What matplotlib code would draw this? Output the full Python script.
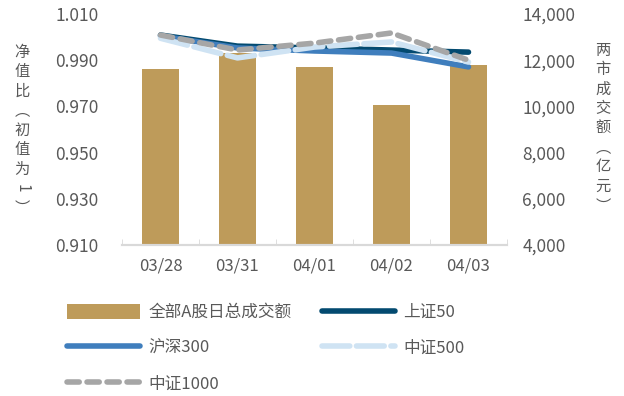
import matplotlib
matplotlib.use("Agg")
import matplotlib.pyplot as plt
from matplotlib.patches import Patch
from matplotlib.lines import Line2D

plt.rcParams['font.family'] = ['Noto Sans CJK SC', 'DejaVu Sans']

dates = ["03/28", "03/31", "04/01", "04/02", "04/03"]
turnover = [11620, 12310, 11700, 10060, 11790]      # 全部A股日总成交额（亿元）
sz50 = [1.0009, 0.9961, 0.9953, 0.9944, 0.9935]      # 上证50
hs300 = [1.0005, 0.9953, 0.9940, 0.9931, 0.9871]     # 沪深300
zz500 = [0.9995, 0.9910, 0.9957, 0.9979, 0.9892]     # 中证500
zz1000 = [1.0009, 0.9944, 0.9974, 1.0018, 0.9900]    # 中证1000

left_ticks = [0.910, 0.930, 0.950, 0.970, 0.990, 1.010]
right_ticks = [4000, 6000, 8000, 10000, 12000, 14000]

c_bar = "#BE9B5A"
c_sz50 = "#034A70"
c_hs300 = "#3F7EBD"
c_zz500 = "#CFE3F3"
c_zz1000 = "#A6A6A6"
txt = "#595959"

fig = plt.figure(figsize=(6.24, 3.96), dpi=100)
ax2 = fig.add_axes([0.1955, 0.3813, 0.617, 0.5833])
ax = ax2.twinx()
# bars on the right-hand axis, lines on the left-hand axis drawn on top
ax2.yaxis.tick_right()
ax2.yaxis.set_label_position("right")
ax.yaxis.tick_left()
ax.yaxis.set_label_position("left")

x = list(range(len(dates)))
ax2.bar(x, turnover, width=0.49, color=c_bar, zorder=2)
ax2.set_ylim(4000, 14000)
ax2.set_yticks(right_ticks)
ax2.set_yticklabels([f"{v:,}" for v in right_ticks])

ax.plot(x, sz50, color=c_sz50, lw=4, solid_capstyle='round', zorder=3)
ax.plot(x, hs300, color=c_hs300, lw=4, solid_capstyle='round', zorder=4)
ax.plot(x, zz500, color=c_zz500, lw=4, dashes=(5, 1.2), dash_capstyle='round', zorder=5)
ax.plot(x, zz1000, color=c_zz1000, lw=4, dashes=(2.2, 1.4), dash_capstyle='round', zorder=6)
ax.set_ylim(0.910, 1.010)
ax.set_yticks(left_ticks)
ax.set_yticklabels([f"{v:.3f}" for v in left_ticks])
ax.set_xlim(-0.5, len(dates) - 0.5)

ax2.set_xticks(x)
ax2.set_xticklabels(dates)
ax2.set_xticks([i - 0.5 for i in range(len(dates) + 1)], minor=True)
ax2.tick_params(axis='x', which='major', length=0, pad=9, labelsize=12, labelcolor=txt)
ax2.tick_params(axis='x', which='minor', length=4, direction='in', color="#D9D9D9")
for a in (ax, ax2):
    for s in ("top", "left", "right"):
        a.spines[s].set_visible(False)
    a.spines["bottom"].set_color("#D9D9D9")
    a.spines["bottom"].set_linewidth(1.5)
ax.tick_params(axis='y', length=0, pad=17, labelsize=12.5, labelcolor=txt)
ax2.tick_params(axis='y', length=0, pad=11, labelsize=12.5, labelcolor=txt)


def vertical_label(xf, ytop, text, step):
    y = ytop
    for ch in text:
        rot = 0 if ord(ch) > 0x2E80 else -90
        fig.text(xf, y, ch, rotation=rot, ha='center', va='center',
                 fontsize=11, color=txt)
        y -= step


vertical_label(22 / 624, 1 - 52 / 396, "净值比︵初值为1︶", 19.5 / 396)
vertical_label(603 / 624, 1 - 50 / 396, "两市成交额︵亿元︶", 19.5 / 396)

# legend entries ordered so that the two columns read row by row
handles = [
    Patch(facecolor=c_bar, edgecolor='none'),
    Line2D([], [], color=c_hs300, lw=4, solid_capstyle='round'),
    Line2D([], [], color=c_zz1000, lw=4, dashes=(2.2, 1.4), dash_capstyle='round'),
    Line2D([], [], color=c_sz50, lw=4, solid_capstyle='round'),
    Line2D([], [], color=c_zz500, lw=4, dashes=(5, 1.2), dash_capstyle='round'),
]
labels = ["全部A股日总成交额", "沪深300", "中证1000", "上证50", "中证500"]
fig.legend(handles, labels, loc='upper left', bbox_to_anchor=(52 / 624, 1 - 289 / 396),
           ncol=2, frameon=False, fontsize=12, labelcolor=txt,
           handlelength=4.4, handleheight=1.0, handletextpad=0.5,
           columnspacing=1.8, labelspacing=1.12)

fig.savefig("out.png", dpi=100)
